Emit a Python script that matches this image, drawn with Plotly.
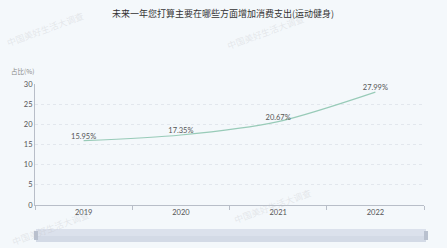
import plotly.graph_objects as go

years = ["2019", "2020", "2021", "2022"]
values = [15.95, 17.35, 20.67, 27.99]
labels = ["15.95%", "17.35%", "20.67%", "27.99%"]
title = "未来一年您打算主要在哪些方面增加消费支出(运动健身)"
y_title = "占比(%)"
watermark = "中国美好生活大调查"

W, H = 447, 248
L, R, T, B = 35, 23, 84, 43
pw, ph = W - L - R, H - T - B

def px(x):
    return (x - L) / pw

def py(y):
    return (H - B - y) / ph

fig = go.Figure()
fig.add_trace(go.Scatter(
    x=years, y=values, mode="lines+text", text=labels,
    textposition="top center",
    textfont=dict(size=7.5, color="#555", family="Lato, Noto Sans CJK SC"),
    line=dict(color="#98cbb8", width=1.1, shape="spline", smoothing=0.8),
    cliponaxis=False, hoverinfo="skip"))

fig.update_layout(
    width=W, height=H, margin=dict(l=L, r=R, t=T, b=B),
    paper_bgcolor="#f4f8fb", plot_bgcolor="#f4f8fb",
    showlegend=False,
    font=dict(family="Noto Sans CJK SC, Lato", color="#666"),
    xaxis=dict(type="category", tickson="boundaries", ticks="outside", ticklen=4,
               tickcolor="#b8bec8", showgrid=False, showline=True, linecolor="#b8bec8",
               linewidth=1, tickfont=dict(size=7.5, color="#555", family="Lato"),
               range=[-0.5, 3.5], fixedrange=True),
    yaxis=dict(range=[0, 30], dtick=5, showgrid=True, gridcolor="#e2e7ed",
               griddash="3px,3px", gridwidth=1, showline=True, linecolor="#b8bec8",
               zeroline=False, ticks="", tickfont=dict(size=7.5, color="#555", family="Lato"),
               fixedrange=True),
)

fig.add_annotation(text=title, xref="paper", yref="paper", x=px(223), y=py(14),
                   showarrow=False, font=dict(size=9, color="#333", family="Noto Sans CJK SC"),
                   xanchor="center", yanchor="middle")
fig.add_annotation(text=y_title, xref="paper", yref="paper", x=px(22), y=py(71),
                   showarrow=False, font=dict(size=6.5, color="#888", family="Noto Sans CJK SC"),
                   xanchor="center", yanchor="middle")

for (wx, wy) in [(45, 30), (265, 32), (50, 228), (272, 206)]:
    fig.add_annotation(text=watermark, xref="paper", yref="paper", x=px(wx), y=py(wy),
                       showarrow=False, textangle=-20,
                       font=dict(size=9, color="rgba(190,190,195,0.3)", family="Noto Sans CJK SC"),
                       xanchor="center", yanchor="middle")

# data-zoom slider decoration
fig.add_shape(type="rect", xref="paper", yref="paper", x0=px(36), x1=px(426),
              y0=py(242), y1=py(229), fillcolor="#d3dae6", line=dict(width=0), layer="above")
fig.add_shape(type="rect", xref="paper", yref="paper", x0=px(36), x1=px(426),
              y0=py(236), y1=py(229), fillcolor="#dbe1ec", line=dict(width=0), layer="above")
for hx in (36, 426):
    fig.add_shape(type="rect", xref="paper", yref="paper", x0=px(hx - 2), x1=px(hx + 2),
                  y0=py(240), y1=py(231), fillcolor="#b9c1cf", line=dict(width=0), layer="above")

fig.write_html("out.html")
